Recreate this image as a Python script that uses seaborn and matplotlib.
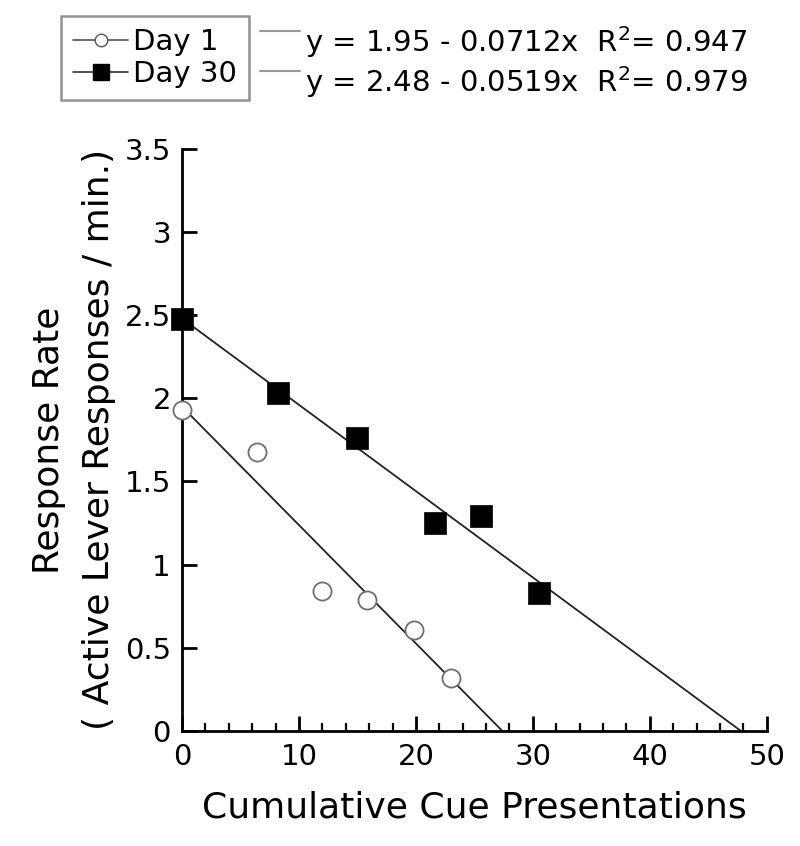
import numpy as np
import pandas as pd
import seaborn as sns
import matplotlib.pyplot as plt
from matplotlib.lines import Line2D
from matplotlib.ticker import MultipleLocator

# data
day1_x = [0, 6.4, 12.0, 15.8, 19.8, 23.0]
day1_y = [1.93, 1.68, 0.84, 0.79, 0.61, 0.32]
day30_x = [0, 8.2, 15.0, 21.6, 25.6, 30.5]
day30_y = [2.48, 2.03, 1.76, 1.25, 1.29, 0.83]

# fit equations printed in the figure
fit_names = ["Day 1", "Day 30"]
fit_intercepts = [1.95, 2.48]
fit_slopes = [-0.0712, -0.0519]
fit_r2 = [0.947, 0.979]

sns.set_theme(style="ticks")
plt.rcParams['font.family'] = ['DejaVu Sans']
plt.rcParams['text.color'] = 'black'
plt.rcParams['axes.labelcolor'] = 'black'
plt.rcParams['xtick.color'] = 'black'
plt.rcParams['ytick.color'] = 'black'

df = pd.DataFrame({
    "x": day1_x + day30_x,
    "y": day1_y + day30_y,
    "day": ["Day 1"] * len(day1_x) + ["Day 30"] * len(day30_x),
})

fig = plt.figure(figsize=(8, 8.46), dpi=100)
ax = fig.add_axes([0.2275, 0.136, 0.731, 0.688])

# regression lines from 0 to x-intercept
for b, m in zip(fit_intercepts, fit_slopes):
    xs = np.array([0, -b / m])
    sns.lineplot(x=xs, y=b + m * xs, ax=ax, color="#222222", lw=1.3, zorder=2)

sns.scatterplot(data=df[df.day == "Day 1"], x="x", y="y", ax=ax, marker="o",
                s=170, facecolor="white", edgecolor="#6f6f6f", linewidth=1.3,
                zorder=3, legend=False, clip_on=False)
sns.scatterplot(data=df[df.day == "Day 30"], x="x", y="y", ax=ax, marker="s",
                s=260, color="black", edgecolor="black", linewidth=0.5,
                zorder=3, legend=False, clip_on=False)

ax.set_xlim(0, 50)
ax.set_ylim(0, 3.5)
ax.xaxis.set_major_locator(MultipleLocator(10))
ax.xaxis.set_minor_locator(MultipleLocator(2))
ax.set_yticks([0, 0.5, 1, 1.5, 2, 2.5, 3, 3.5])
ax.set_yticklabels(["0", "0.5", "1", "1.5", "2", "2.5", "3", "3.5"])
sns.despine(ax=ax)
for s in ["left", "bottom"]:
    ax.spines[s].set_linewidth(2)
    ax.spines[s].set_color("black")
ax.tick_params(which="major", direction="in", length=11, width=2,
               labelsize=21, pad=8, colors="black")
ax.tick_params(which="minor", direction="in", length=6, width=1.6)
ax.tick_params(axis="x", pad=9)

ax.set_xlabel("Cumulative Cue Presentations", fontsize=26, labelpad=14)
ax.set_ylabel("Response Rate\n( Active Lever Responses / min.)", fontsize=26,
              labelpad=6, linespacing=1.6)

# legend box
handles = [
    Line2D([], [], color="#555555", lw=1.2, marker="o", markersize=9,
           markerfacecolor="white", markeredgecolor="#555555"),
    Line2D([], [], color="#333333", lw=1.2, marker="s", markersize=11,
           markerfacecolor="black", markeredgecolor="black"),
]
leg = fig.legend(handles, fit_names, loc="upper left",
                 bbox_to_anchor=(0.076, 0.981), fontsize=21, frameon=True,
                 fancybox=False, handlelength=1.9, handletextpad=0.15,
                 borderpad=0.42, labelspacing=0.12, borderaxespad=0)
leg.get_frame().set_edgecolor("#777777")
leg.get_frame().set_linewidth(1.8)

# equation labels
for i, (b, m, r2) in enumerate(zip(fit_intercepts, fit_slopes, fit_r2)):
    yy = 0.950 - i * 0.047
    fig.add_artist(Line2D([0.325, 0.375], [yy + 0.013, yy + 0.013],
                          color="#999999", lw=1.5))
    fig.text(0.381, yy, f"y = {b:.2f} - {abs(m):.4f}x  R$^2$= {r2:.3f}",
             fontsize=21, va="center", ha="left")

fig.savefig("out.png", dpi=100)
